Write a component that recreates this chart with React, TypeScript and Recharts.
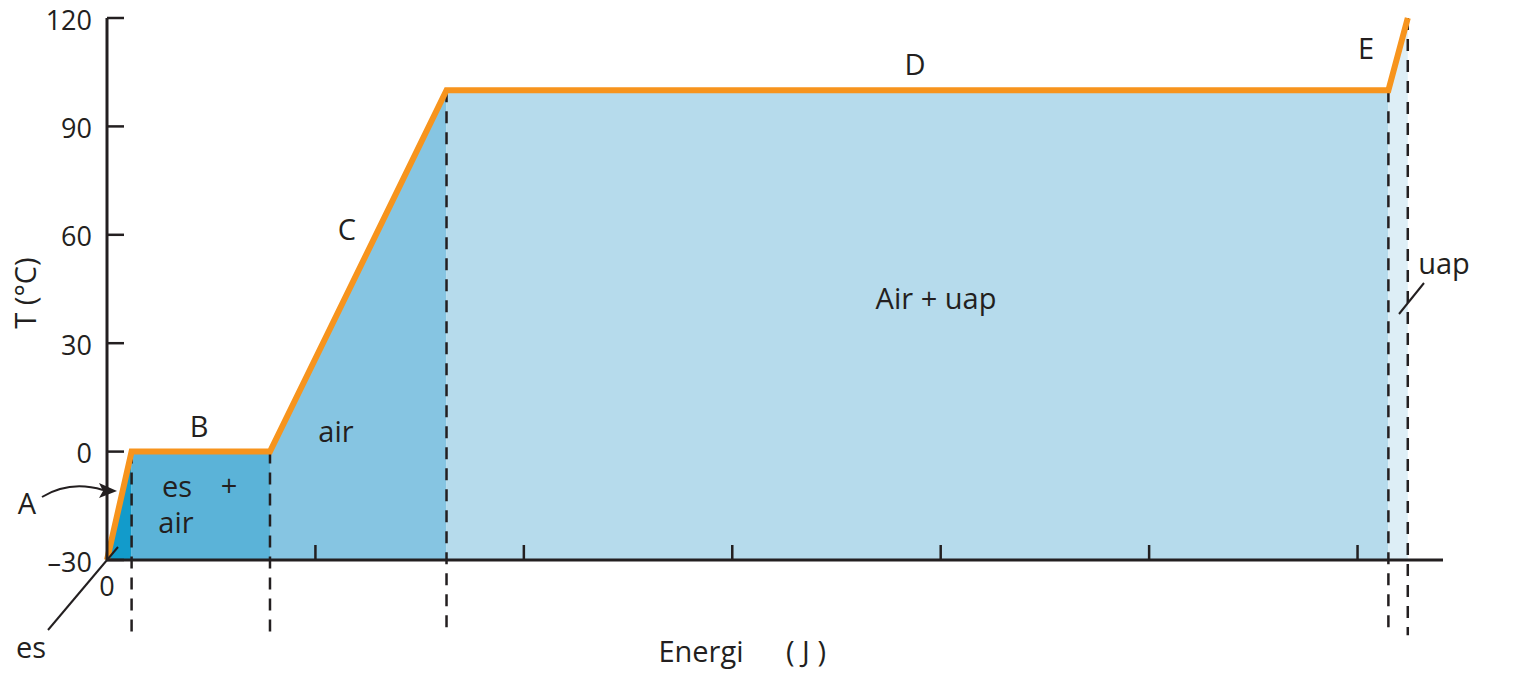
import { ComposedChart, Area, Line, XAxis, YAxis, ReferenceLine } from 'recharts';

// heating curve of water: energy (arbitrary units, tick = 10) vs temperature
const energy = [0, 1.18, 7.82, 16.29, 61.48, 62.41];
const temperature = [-30, 0, 0, 100, 100, 120];
const phaseColors = ['#129bcb', '#5bb3d8', '#86c5e2', '#b6dbec', '#ddeef6'];
const tempTicks = [-30, 0, 30, 60, 90, 120];
const energyTicks = [0, 10, 20, 30, 40, 50, 60];
const energyMax = 64.1;
const guideBottom = -50.8; // dashed guides run below the energy axis

const INK = '#231f20';
const ORANGE = '#f7941d';
const W = 1497;
const H = 680;

const data = energy.map((e, i) => {
    const row: Record<string, number | null> = { e, t: temperature[i] };
    phaseColors.forEach((_, k) => {
        row[`p${k}`] = i === k || i === k + 1 ? temperature[i] : null;
    });
    return row;
});

const TempTick = ({ x, y, payload }: any) => (
    <g>
        <line x1={x} x2={x + 17} y1={y} y2={y} stroke={INK} strokeWidth={2.5} />
        <text x={x - 15} y={y + 1} textAnchor="end" dominantBaseline="central" fontSize={27} fill={INK}>
            {payload.value < 0 ? `–${-payload.value}` : payload.value}
        </text>
    </g>
);

const EnergyTick = ({ x, y, payload }: any) =>
    payload.value === 0 ? (
        <text x={x} y={y + 25} textAnchor="middle" dominantBaseline="central" fontSize={27} fill={INK}>
            0
        </text>
    ) : (
        <line x1={x} x2={x} y1={y} y2={y - 15} stroke={INK} strokeWidth={2.5} />
    );

export default function App() {
    const txt = { fill: INK, fontSize: 29, textAnchor: 'middle' as const, dominantBaseline: 'central' as const };
    return (
        <div style={{ position: 'relative', width: W, height: H, fontFamily: '"Open Sans", sans-serif' }}>
            <ComposedChart width={W} height={H} data={data} margin={{ top: 10, right: 62, bottom: 88, left: 39 }}>
                {phaseColors.map((c, k) => (
                    <Area
                        key={k}
                        type="linear"
                        dataKey={`p${k}`}
                        baseValue={-30}
                        stroke="none"
                        fill={c}
                        fillOpacity={1}
                        connectNulls={false}
                        isAnimationActive={false}
                    />
                ))}
                {energy.slice(1).map((e, i) => (
                    <ReferenceLine
                        key={i}
                        segment={[{ x: e, y: temperature[i + 1] }, { x: e, y: guideBottom }]}
                        stroke={INK}
                        strokeWidth={2.5}
                        strokeDasharray="12 9"
                        ifOverflow="visible"
                    />
                ))}
                <XAxis
                    dataKey="e"
                    type="number"
                    domain={[0, energyMax]}
                    ticks={energyTicks}
                    interval={0}
                    height={40}
                    tickSize={0}
                    tickMargin={0}
                    tickLine={false}
                    tick={<EnergyTick />}
                    axisLine={{ stroke: INK, strokeWidth: 3 }}
                />
                <YAxis
                    type="number"
                    domain={[-30, 120]}
                    ticks={tempTicks}
                    interval={0}
                    width={60}
                    tickSize={0}
                    tickMargin={0}
                    tickLine={false}
                    tick={<TempTick />}
                    axisLine={{ stroke: INK, strokeWidth: 3 }}
                />
                <Line
                    type="linear"
                    dataKey="t"
                    stroke={ORANGE}
                    strokeWidth={6}
                    dot={false}
                    strokeLinejoin="miter"
                    isAnimationActive={false}
                />
            </ComposedChart>
            <svg width={W} height={H} style={{ position: 'absolute', left: 0, top: 0, pointerEvents: 'none' }}>
                <g transform="translate(-8,-8)">
                    <text {...txt} x={199} y={425}>B</text>
                    <text {...txt} x={347} y={228}>C</text>
                    <text {...txt} x={915} y={63}>D</text>
                    <text {...txt} x={1366} y={47}>E</text>
                    <text {...txt} x={336} y={430}>air</text>
                    <text {...txt} x={177} y={485}>es</text>
                    <text {...txt} x={229} y={484}>+</text>
                    <text {...txt} x={176} y={521}>air</text>
                    <text {...txt} x={936} y={297}>Air + uap</text>
                    <text {...txt} x={1444} y={262}>uap</text>
                    <text {...txt} x={27} y={502}>A</text>
                    <text {...txt} x={31} y={646}>es</text>
                    <text {...txt} x={24} y={293} transform="rotate(-90 24 293)">T (°C)</text>
                    <text {...txt} x={701} y={650}>Energi</text>
                    <text {...txt} x={806} y={650} style={{ whiteSpace: 'pre' }}>( J )</text>
                    <path d="M42 497 Q70 480 103 490" fill="none" stroke={INK} strokeWidth={2} />
                    <polygon points="117,491 99,483 103,491 99,498" fill={INK} />
                    <line x1={48} y1={630} x2={118} y2={547} stroke={INK} strokeWidth={2} />
                    <line x1={1399} y1={314} x2={1424} y2={283} stroke={INK} strokeWidth={2} />
                </g>
            </svg>
        </div>
    );
}
